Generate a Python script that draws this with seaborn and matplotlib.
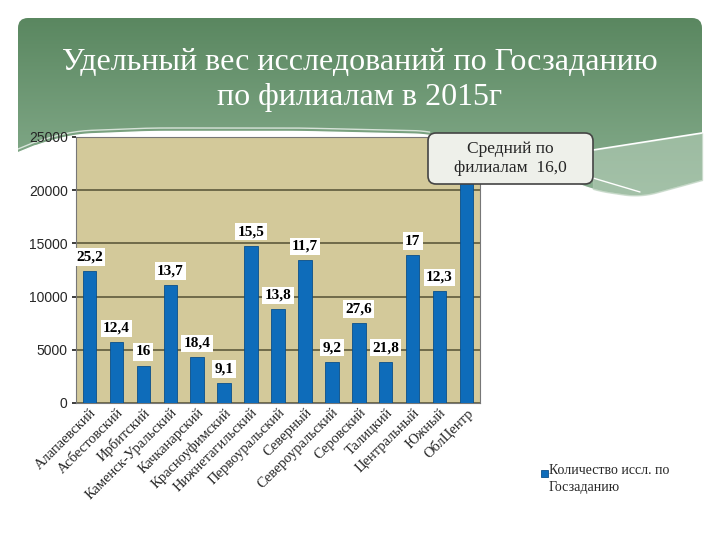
import numpy as np
import pandas as pd
import seaborn as sns
import matplotlib.pyplot as plt
from matplotlib.patches import FancyBboxPatch, Rectangle
from matplotlib.colors import LinearSegmentedColormap

# Data
branches = ["Алапаевский", "Асбестовский", "Ирбитский", "Каменск-Уральский",
            "Качканарский", "Красноуфимский", "Нижнетагильский", "Первоуральский",
            "Северный", "Североуральский", "Серовский", "Талицкий",
            "Центральный", "Южный", "ОблЦентр"]
counts = [12400, 5700, 3500, 11100, 4300, 1900, 14800, 8800,
          13400, 3900, 7500, 3900, 13900, 10500, 23000]
shares = ["25,2", "12,4", "16", "13,7", "18,4", "9,1", "15,5", "13,8",
          "11,7", "9,2", "27,6", "21,8", "17", "12,3", ""]

title = "Удельный вес исследований по Госзаданию\nпо филиалам в 2015г"
callout = "Средний по\nфилиалам  16,0"
legend_label = "Количество иссл. по\nГосзаданию"

df = pd.DataFrame({"branch": branches, "count": counts})

sns.set_theme(style="white")
plt.rcParams["font.family"] = ["Liberation Serif", "DejaVu Serif"]

fig = plt.figure(figsize=(7.2, 5.4), dpi=100)
fig.patch.set_facecolor("white")

# Header background, drawn in pixel coordinates
bg = fig.add_axes([0, 0, 1, 1])
bg.set_xlim(0, 720)
bg.set_ylim(540, 0)
bg.axis("off")
grad = np.linspace(0, 1, 256).reshape(-1, 1)
cmap = LinearSegmentedColormap.from_list("hdr", ["#5a8760", "#8cb293"])
im = bg.imshow(grad, cmap=cmap, aspect="auto", extent=(18, 702, 205, 18))
clip = FancyBboxPatch((18, 18), 684, 187, boxstyle="round,pad=0,rounding_size=10",
                      transform=bg.transData, facecolor="none", edgecolor="none")
bg.add_patch(clip)
im.set_clip_path(clip)

# wavy lower edge of the header
kx = [18, 40, 75, 150, 300, 430, 520, 593, 640, 702]
ky = [152, 143, 134, 131, 131, 134, 160, 190, 197, 180]
wx = np.linspace(18, 702, 300)
wy = np.convolve(np.interp(wx, kx, ky), np.ones(15) / 15, mode="same")
wy[:8] = np.interp(wx[:8], kx, ky)
wy[-8:] = np.interp(wx[-8:], kx, ky)
bg.fill_between(wx, wy, 215, color="white", zorder=3)
lx = np.linspace(593, 702, 50)
bg.fill_between(lx, 150 - 17 * (lx - 593) / 109, np.interp(lx, wx, wy),
                color="#b5cdb8", alpha=0.6, zorder=3)
bg.plot(lx, 150 - 17 * (lx - 593) / 109, color="white", lw=1.2, zorder=3)
bg.plot([593, 640], [178, 192], color="white", lw=1.0, zorder=3)
bg.plot(wx[wx < 430], wy[wx < 430] - 3, color="white", lw=1.0, alpha=0.7, zorder=3)
bg.text(360, 80, title, ha="center", va="center", color="white", fontsize=23,
        linespacing=1.3, zorder=4)

# Chart
ax = fig.add_axes([76 / 720, 1 - 403 / 540, (480 - 76) / 720, (403 - 137) / 540])
ax.set_facecolor("#d3c99a")
sns.barplot(data=df, x="branch", y="count", color="#0e6cba", width=0.5,
            edgecolor="#0a4f8a", linewidth=0.6, saturation=1, ax=ax, zorder=3)
ax.set_ylim(0, 25000)
ax.set_yticks(range(0, 25001, 5000))
ax.yaxis.grid(True, color="#5e5a3c", lw=1.2, zorder=0)
ax.set_axisbelow(True)
ax.set_xlabel("")
ax.set_ylabel("")
for s in ax.spines.values():
    s.set_color("#777777")
    s.set_linewidth(0.8)
ax.tick_params(axis="y", labelsize=10, length=3, left=True, pad=3)
ax.tick_params(axis="x", labelsize=10.5, length=0, pad=2)
for t in ax.get_yticklabels():
    t.set_family(["Liberation Sans", "DejaVu Sans"])
plt.setp(ax.get_xticklabels(), rotation=45, ha="right", rotation_mode="anchor")

for i, (v, lab) in enumerate(zip(counts, shares)):
    if lab:
        ax.text(i, v + 700, lab, ha="center", va="bottom", fontsize=11,
                fontweight="bold", color="black", zorder=5,
                bbox=dict(boxstyle="square,pad=0.15", fc="white", ec="none"))

# Callout and legend on top
bg.set_zorder(0)
ax.set_zorder(1)
top = fig.add_axes([0, 0, 1, 1], facecolor="none")
top.set_xlim(0, 720)
top.set_ylim(540, 0)
top.axis("off")
top.set_zorder(2)
top.add_patch(FancyBboxPatch((428, 133), 165, 51, boxstyle="round,pad=0,rounding_size=8",
                             fc="#eef0ea", ec="#444444", lw=1.2))
top.text(510.5, 158.5, callout, ha="center", va="center", fontsize=12.5, linespacing=1.3)

top.add_patch(Rectangle((541, 470), 7, 7, fc="#0e6cba", ec="#0a4f8a", lw=0.6))
top.text(549, 464, legend_label, ha="left", va="top", fontsize=10, linespacing=1.4)

fig.savefig("out.png", dpi=100)
